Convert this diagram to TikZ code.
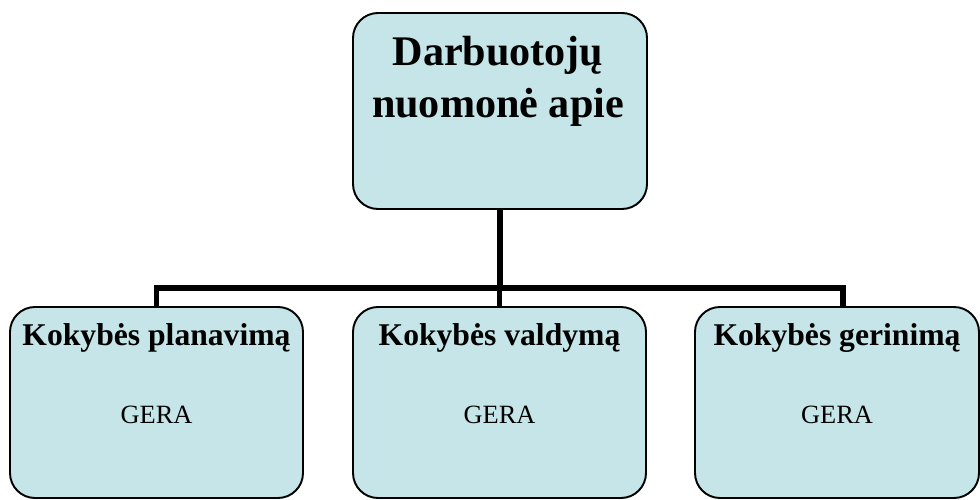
\documentclass[tikz,border=0pt]{standalone}
\usepackage{fontspec}
\setmainfont{Liberation Serif}
\usetikzlibrary{positioning,calc}
\definecolor{boxcyan}{RGB}{197,229,232}

\tikzset{
  orgbox/.style={draw=black,line width=1.1pt,fill=boxcyan,rounded corners=0.5cm,inner sep=0pt},
  conn/.style={line width=3pt,black},
  headtext/.style={font=\fontsize{18}{21}\selectfont\bfseries,anchor=base},
  gradetext/.style={font=\fontsize{15}{18}\selectfont,anchor=base}
}

\begin{document}
\begin{tikzpicture}
\useasboundingbox (0,0) rectangle (19.6,-10);

% top box
\node[orgbox,minimum width=5.88cm,minimum height=3.92cm] (top) at (10,-2.22) {};
\node[font=\fontsize{24}{30}\selectfont\bfseries,align=center,anchor=base] (toptext) at (9.96,-2.36) {Darbuotojų\\nuomonė apie};

% bottom boxes
\node[orgbox,minimum width=5.86cm,minimum height=3.82cm] (plan) at (3.13,-8.05) {};
\node[orgbox,minimum width=5.86cm,minimum height=3.82cm] (valdy) at (9.99,-8.05) {};
\node[orgbox,minimum width=5.68cm,minimum height=3.82cm] (gerin) at (16.74,-8.05) {};

% box texts
\node[headtext] (plantitle) at (3.13,-6.92) {Kokybės planavimą};
\node[headtext] (valdytitle) at (9.99,-6.92) {Kokybės valdymą};
\node[headtext] (gerintitle) at (16.74,-6.92) {Kokybės gerinimą};
\node[gradetext] (plangrade) at (3.13,-8.48) {GERA};
\node[gradetext] (valdygrade) at (9.99,-8.48) {GERA};
\node[gradetext] (geringrade) at (16.74,-8.48) {GERA};

% connectors
\coordinate (bus) at (10,-5.76);
\draw[conn] (top.south) -- (top.south |- bus);
\draw[conn] (plan.north) |- (bus) -| ([xshift=0.12cm]gerin.north);
\draw[conn] (valdy.north) -- (valdy.north |- bus);
\end{tikzpicture}
\end{document}
